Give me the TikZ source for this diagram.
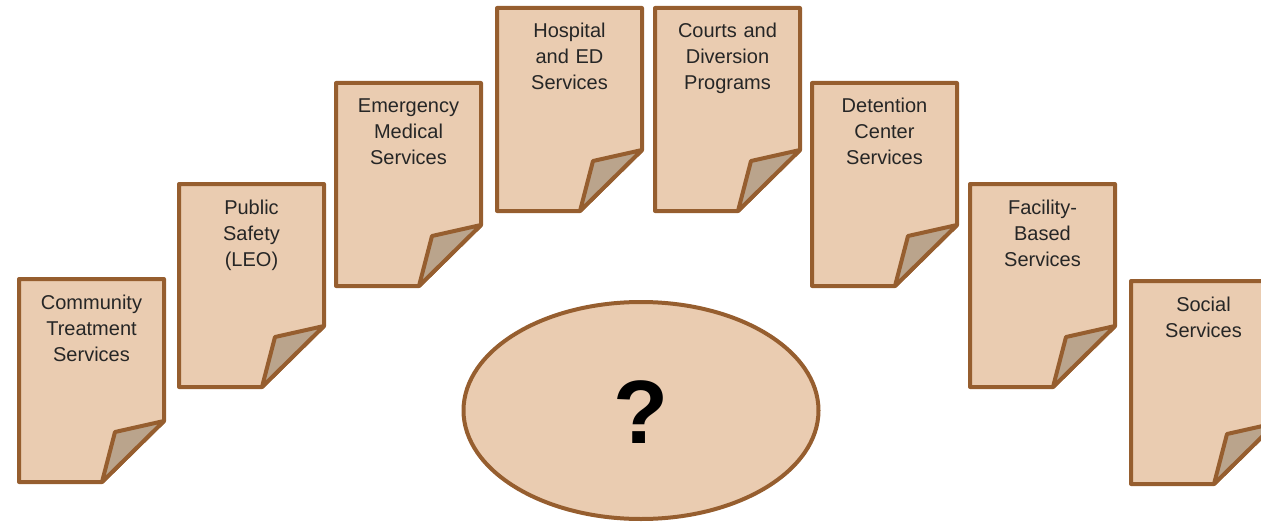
\documentclass[tikz,border=0pt]{standalone}
\usepackage{fontspec}
\setmainfont{Liberation Sans}
\usetikzlibrary{shapes.geometric}
\definecolor{pagefill}{HTML}{EACCB1}
\definecolor{pageline}{HTML}{965E2F}
\definecolor{flapfill}{HTML}{BAA48C}
\tikzset{
  pagebody/.style={fill=pagefill, draw=pageline, line width=4pt, line join=round},
  pageflap/.style={fill=flapfill, draw=pageline, line width=4pt, line join=round},
  pagelabel/.style={text width=140pt, align=center, inner sep=0pt, anchor=base,
    font=\fontsize{20}{26}\selectfont, text=black!85},
}
\newcommand\docpage[4]{%
  \path[pagebody] (#2,#3) -- (#2+145,#3) -- (#2+145,#3+142) -- (#2+83,#3+203) -- (#2,#3+203) -- cycle;
  \path[pageflap] (#2+83,#3+203) -- (#2+96,#3+153) -- (#2+145,#3+142) -- cycle;
  \node[pagelabel] (#1) at (#2+72.5,#3+30) {#4};
}
\begin{document}
\begin{tikzpicture}[x=1pt,y=-1pt]
\useasboundingbox (0,0) rectangle (1261,524);
\clip (0,0) rectangle (1261,524);
\docpage{community}{19}{279}{Community\\Treatment\\Services}
\docpage{safety}{179}{184}{Public\\Safety\\(LEO)}
\docpage{ems}{336}{83}{Emergency\\Medical\\Services}
\docpage{hospital}{497}{8}{Hospital\\and ED\\Services}
\docpage{courts}{655}{8}{Courts and\\Diversion\\Programs}
\docpage{detention}{812}{83}{Detention\\Center\\Services}
\docpage{facility}{970}{184}{Facility-\\Based\\Services}
\docpage{social}{1131}{281}{Social\\Services}
\node[ellipse, draw=pageline, fill=pagefill, line width=4pt, minimum width=355pt, minimum height=217pt, inner sep=0pt] (unknown) at (641,410.5) {};
\node[font=\fontsize{90}{90}\selectfont\bfseries, inner sep=0pt] (qmark) at (641,412) {?};
\end{tikzpicture}
\end{document}
